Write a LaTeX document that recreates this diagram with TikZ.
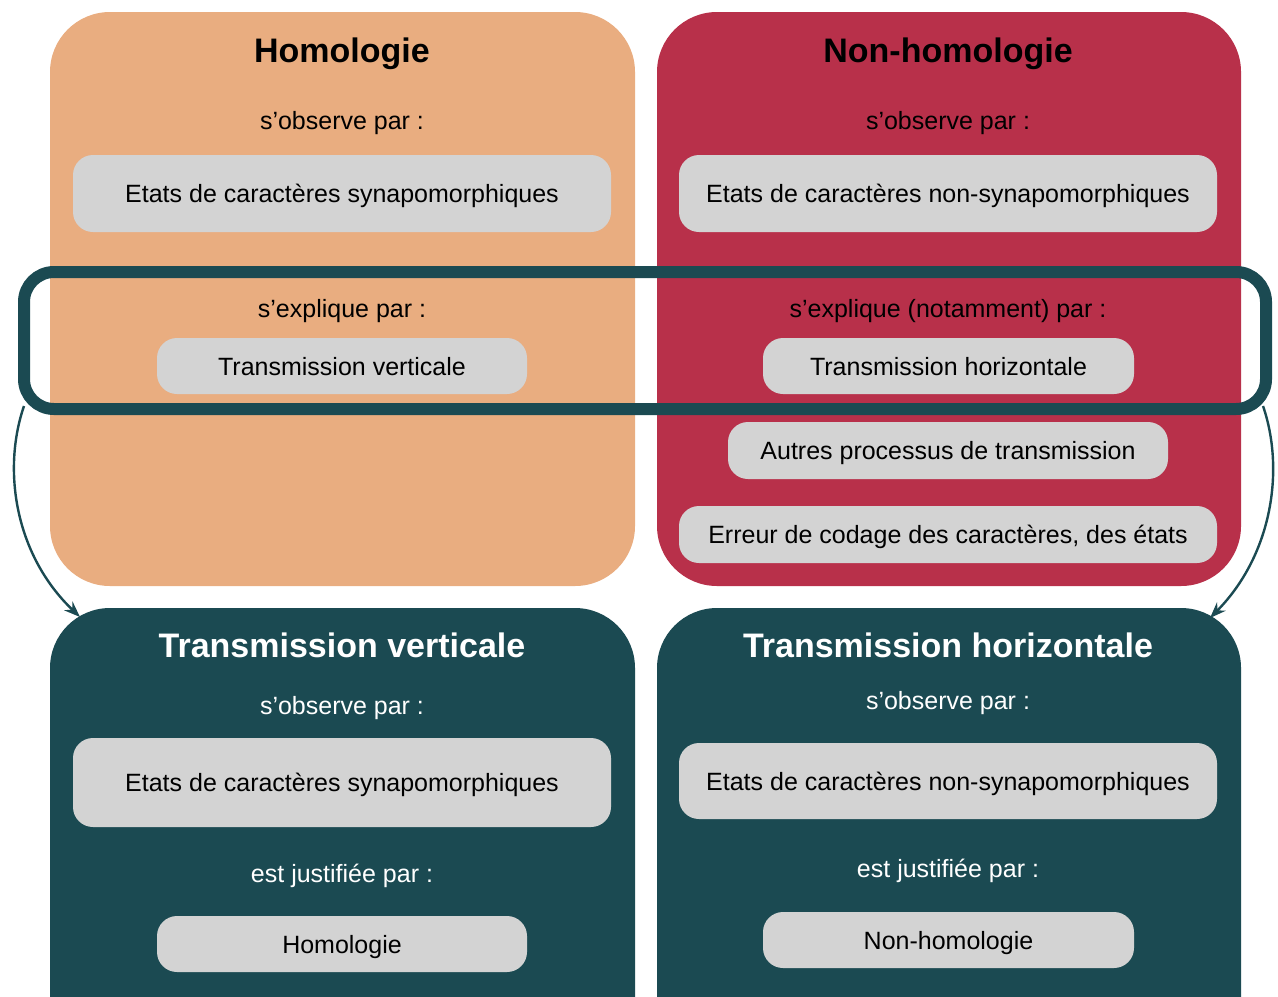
\documentclass[tikz,border=0pt]{standalone}
\usepackage{fontspec}
\setmainfont{Liberation Sans}
\usetikzlibrary{arrows.meta}
\definecolor{orangeC}{HTML}{E9AD80}
\definecolor{redC}{HTML}{B8304A}
\definecolor{tealC}{HTML}{1B4A52}
\definecolor{grayC}{HTML}{D3D3D3}
\begin{document}
\begin{tikzpicture}[x=0.5pt,y=-0.5pt,
 bigbox/.style={rounded corners=30pt, inner sep=0pt, outer sep=0pt},
 graybox/.style={fill=grayC, rounded corners=10pt, inner sep=0pt, font=\fontsize{12.5}{15}\selectfont, text height=9.4pt, text depth=0pt},
 titletext/.style={font=\bfseries\fontsize{17}{20}\selectfont, inner sep=0pt, text height=12.8pt, text depth=0pt},
 labeltext/.style={font=\fontsize{12.5}{15}\selectfont, inner sep=0pt, text height=9.4pt, text depth=0pt},
 conn/.style={draw=tealC, line width=1.2pt, -{Stealth[length=8pt,width=6pt]}}]
\useasboundingbox (0,0) rectangle (1278,996);
\clip (0,0) rectangle (1278,996);
% top boxes
\node[bigbox, fill=orangeC, minimum width=292.5pt, minimum height=287pt] (H) at (342.5,299) {};
\node[bigbox, fill=redC, minimum width=292pt, minimum height=287pt] (NH) at (949,299) {};
\node[titletext] (Ht) at (342,50) {Homologie};
\node[titletext] (NHt) at (948,50) {Non-homologie};
\node[labeltext] (Ho) at (342,120) {s’observe par :};
\node[labeltext] (NHo) at (948,120) {s’observe par :};
\node[graybox, minimum width=269pt, minimum height=38.5pt] (Hs) at (342,193.5) {Etats de caractères synapomorphiques};
\node[graybox, minimum width=269pt, minimum height=38.5pt] (NHs) at (948,193.5) {Etats de caractères non-synapomorphiques};
\node[labeltext] (He) at (342,308) {s’explique par :};
\node[labeltext] (NHe) at (948,308) {s’explique (notamment) par :};
\node[graybox, minimum width=185pt, minimum height=28pt] (Htv) at (342,366) {Transmission verticale};
\node[graybox, minimum width=185.5pt, minimum height=28pt] (NHth) at (948.5,366) {Transmission horizontale};
\node[graybox, minimum width=220pt, minimum height=28.5pt] (NHa) at (948,450.5) {Autres processus de transmission};
\node[graybox, minimum width=269pt, minimum height=28.5pt] (NHr) at (948,534.5) {Erreur de codage des caractères, des états};
% band
\node[draw=tealC, line width=6pt, rounded corners=15pt, minimum width=621pt, minimum height=68.5pt, inner sep=0pt] (band) at (645,340.5) {};
% bottom boxes
\node[bigbox, fill=tealC, minimum width=292.5pt, minimum height=226pt] (TV) at (342.5,834) {};
\node[bigbox, fill=tealC, minimum width=292pt, minimum height=226pt] (TH) at (949,834) {};
\node[titletext, text=white] (TVt) at (342,645) {Transmission verticale};
\node[titletext, text=white] (THt) at (948,645) {Transmission horizontale};
\node[labeltext, text=white] (TVo) at (342,705) {s’observe par :};
\node[labeltext, text=white] (THo) at (948,700) {s’observe par :};
\node[graybox, minimum width=269pt, minimum height=44.5pt] (TVs) at (342,782.5) {Etats de caractères synapomorphiques};
\node[graybox, minimum width=269pt, minimum height=38pt] (THs) at (948,781) {Etats de caractères non-synapomorphiques};
\node[labeltext, text=white] (TVj) at (342,873) {est justifiée par :};
\node[labeltext, text=white] (THj) at (948,868) {est justifiée par :};
\node[graybox, minimum width=185pt, minimum height=28pt] (TVh) at (342,944) {Homologie};
\node[graybox, minimum width=185.5pt, minimum height=28pt] (THn) at (948.5,940) {Non-homologie};
% arrows
\coordinate (aL1) at (24,406);
\coordinate (aL2) at (80,617);
\coordinate (aR1) at (1263,406);
\coordinate (aR2) at (1210,618);
\draw[conn] (aL1) .. controls (2,470) and (15,555) .. (aL2);
\draw[conn] (aR1) .. controls (1285,470) and (1272,555) .. (aR2);
\end{tikzpicture}
\end{document}
